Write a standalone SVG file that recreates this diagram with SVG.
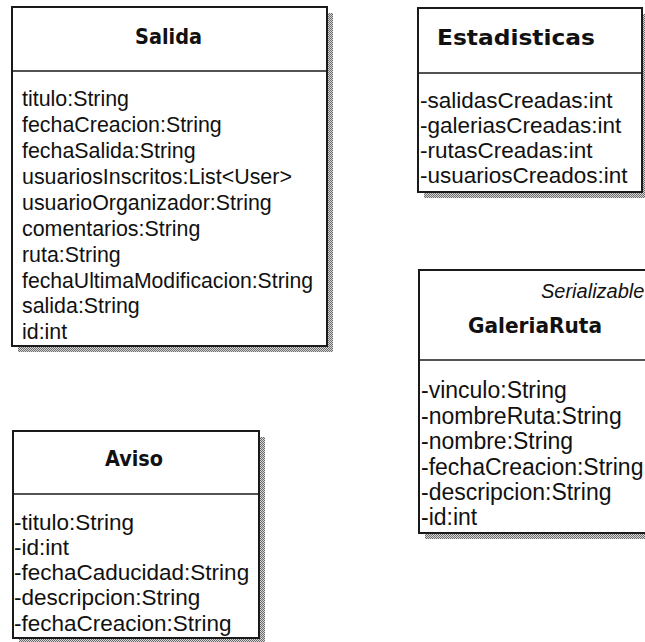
<svg xmlns="http://www.w3.org/2000/svg" width="645" height="642" viewBox="0 0 645 642">
<defs>
<pattern id="dither" width="2" height="2" patternUnits="userSpaceOnUse">
<rect width="2" height="2" fill="#d8d8d8"/>
<rect width="1" height="1" fill="#6a6a6a"/>
<rect x="1" y="1" width="1" height="1" fill="#6a6a6a"/>
</pattern>
</defs>
<style>
.box{fill:#ffffff;stroke:#1a1a1a;stroke-width:2}
.sep{stroke:#1a1a1a;stroke-width:1.6}
.shadow{fill:url(#dither)}
.title{font-family:"DejaVu Sans","Liberation Sans",sans-serif;font-weight:bold;font-size:20.5px;fill:#111}
.attr{font-family:"Liberation Sans",Arial,sans-serif;fill:#111}
.ital{font-family:"Liberation Sans",Arial,sans-serif;font-style:italic;fill:#111}
</style>
<rect width="645" height="642" fill="#ffffff"/>
<g id="connectors"></g>
<g id="Salida">
<rect class="shadow" x="327" y="13" width="6" height="339"/>
<rect class="shadow" x="18" y="346" width="315" height="6"/>
<rect class="box" x="12" y="7" width="315" height="339"/>
<line class="sep" x1="12" y1="71" x2="327" y2="71"/>
<text class="title" x="135" y="44" textLength="67" lengthAdjust="spacingAndGlyphs">Salida</text>
<g class="attr" font-size="21.4">
<text x="22" y="106">titulo:String</text>
<text x="22" y="132">fechaCreacion:String</text>
<text x="22" y="158">fechaSalida:String</text>
<text x="22" y="184">usuariosInscritos:List&lt;User&gt;</text>
<text x="22" y="210">usuarioOrganizador:String</text>
<text x="22" y="236">comentarios:String</text>
<text x="22" y="262">ruta:String</text>
<text x="22" y="288" textLength="291" lengthAdjust="spacingAndGlyphs">fechaUltimaModificacion:String</text>
<text x="22" y="313">salida:String</text>
<text x="22" y="339">id:int</text>
</g>
</g>
<g id="Estadisticas">
<rect class="shadow" x="642" y="14" width="6" height="184"/>
<rect class="shadow" x="424" y="192" width="224" height="6"/>
<rect class="box" x="418" y="8" width="224" height="184"/>
<line class="sep" x1="418" y1="73" x2="642" y2="73"/>
<text class="title" x="437" y="45" textLength="158" lengthAdjust="spacingAndGlyphs">Estadisticas</text>
<g class="attr" font-size="22.5">
<text x="420" y="108">-salidasCreadas:int</text>
<text x="420" y="133">-galeriasCreadas:int</text>
<text x="420" y="158">-rutasCreadas:int</text>
<text x="420" y="183">-usuariosCreados:int</text>
</g>
</g>
<g id="GaleriaRuta">
<rect class="shadow" x="425" y="533" width="230" height="6"/>
<rect class="box" x="419" y="270" width="240" height="263"/>
<line class="sep" x1="419" y1="360" x2="659" y2="360"/>
<text class="ital" x="541" y="298" font-size="20">Serializable</text>
<text class="title" x="468" y="333" textLength="134" lengthAdjust="spacingAndGlyphs">GaleriaRuta</text>
<g class="attr" font-size="23">
<text x="421" y="398">-vinculo:String</text>
<text x="421" y="424">-nombreRuta:String</text>
<text x="421" y="449">-nombre:String</text>
<text x="421" y="475">-fechaCreacion:String</text>
<text x="421" y="500">-descripcion:String</text>
<text x="421" y="525">-id:int</text>
</g>
</g>
<g id="Aviso">
<rect class="shadow" x="259" y="437" width="6" height="207"/>
<rect class="shadow" x="19" y="638" width="246" height="6"/>
<rect class="box" x="13" y="431" width="246" height="207"/>
<line class="sep" x1="13" y1="494" x2="259" y2="494"/>
<text class="title" x="105" y="466" textLength="58" lengthAdjust="spacingAndGlyphs">Aviso</text>
<g class="attr" font-size="22.5">
<text x="14" y="530">-titulo:String</text>
<text x="14" y="555">-id:int</text>
<text x="14" y="580">-fechaCaducidad:String</text>
<text x="14" y="605">-descripcion:String</text>
<text x="14" y="631">-fechaCreacion:String</text>
</g>
</g>
</svg>
